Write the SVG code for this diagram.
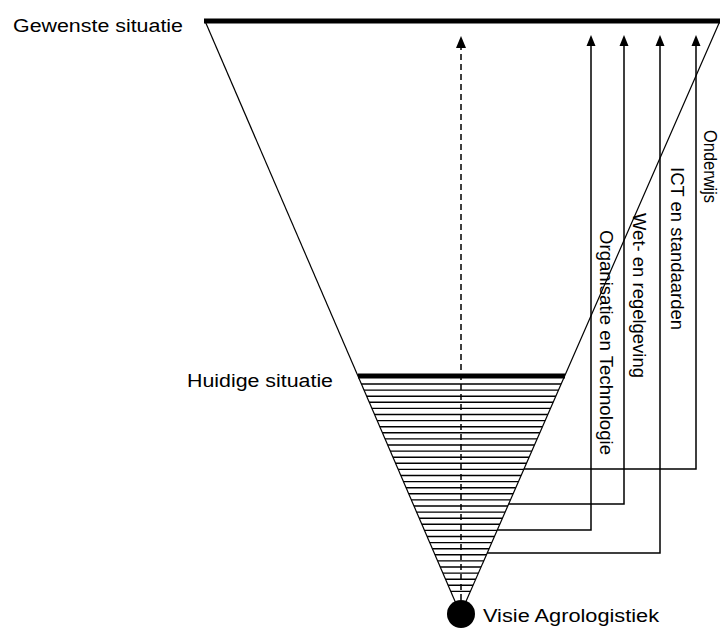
<svg xmlns="http://www.w3.org/2000/svg" width="720" height="628" viewBox="0 0 720 628">
<style>
  .lbl { font-family: "Liberation Sans", Arial, sans-serif; font-size: 18px; fill: #000; }
  .bar { stroke: #000; stroke-width: 5; }
  .edge { stroke: #000; stroke-width: 1.2; fill: none; }
  .stripe { stroke: #000; stroke-width: 1.4; }
  .conn { stroke: #000; stroke-width: 1.5; fill: none; }
  .dash { stroke: #000; stroke-width: 1.5; stroke-dasharray: 6 4; fill: none; }
</style>
<defs>
  <clipPath id="funnelClip">
    <polygon points="205,21 720,21 460.5,614"/>
  </clipPath>
</defs>
<rect x="0" y="0" width="720" height="628" fill="#fff"/>

<g id="funnel">
  <line class="edge" x1="205" y1="21" x2="460.5" y2="614"/>
  <line class="edge" x1="720" y1="21" x2="460.5" y2="614"/>
  <g clip-path="url(#funnelClip)">
    <path class="stripe" d="M340,384H580M340,390.1H580M340,396.2H580M340,402.3H580M340,408.4H580M340,414.5H580M340,420.6H580M340,426.7H580M340,432.8H580M340,438.9H580M340,445H580M340,451.1H580M340,457.2H580M340,463.3H580M340,469.4H580M340,475.5H580M340,481.6H580M340,487.7H580M340,493.8H580M340,499.9H580M340,506H580M340,512.1H580M340,518.2H580M340,524.3H580M340,530.4H580M340,536.5H580M340,542.6H580M340,548.7H580M340,554.8H580M340,560.9H580M340,567H580M340,573.1H580M340,579.2H580M340,585.3H580M340,591.4H580"/>
  </g>
</g>

<g id="gewenste">
  <line class="bar" x1="204" y1="21" x2="720" y2="21"/>
  <text class="lbl" x="13" y="31.5" textLength="170" lengthAdjust="spacingAndGlyphs">Gewenste situatie</text>
</g>

<g id="huidige">
  <line class="bar" x1="358" y1="376" x2="565" y2="376"/>
  <text class="lbl" x="187" y="387" textLength="146" lengthAdjust="spacingAndGlyphs">Huidige situatie</text>
</g>

<g id="visie">
  <circle cx="461" cy="614" r="14" fill="#000"/>
  <text class="lbl" x="483" y="621.5" textLength="176" lengthAdjust="spacingAndGlyphs">Visie Agrologistiek</text>
</g>

<g id="connectors">
  <line class="dash" x1="461" y1="600" x2="461" y2="46"/>
  <polygon points="461,36 456,48 466,48" fill="#000"/>

  <polyline class="conn" points="523.9,469 696,469 696,45"/>
  <polygon points="696,35 691.5,46 700.5,46" fill="#000"/>

  <polyline class="conn" points="508.6,504 624,504 624,45"/>
  <polygon points="624,35 619.5,46 628.5,46" fill="#000"/>

  <polyline class="conn" points="497.3,530 591,530 591,45"/>
  <polygon points="591,35 586.5,46 595.5,46" fill="#000"/>

  <polyline class="conn" points="487.2,553 660,553 660,45"/>
  <polygon points="660,35 655.5,46 664.5,46" fill="#000"/>
</g>

<g id="labels">
  <text class="lbl" transform="translate(704,130) rotate(90)" textLength="73" lengthAdjust="spacingAndGlyphs">Onderwijs</text>
  <text class="lbl" transform="translate(670.5,167) rotate(90)" textLength="163" lengthAdjust="spacingAndGlyphs">ICT en standaarden</text>
  <text class="lbl" transform="translate(632.5,213) rotate(90)" textLength="165" lengthAdjust="spacingAndGlyphs">Wet- en regelgeving</text>
  <text class="lbl" transform="translate(600,230) rotate(90)" textLength="225" lengthAdjust="spacingAndGlyphs">Organisatie en Technologie</text>
</g>
</svg>
